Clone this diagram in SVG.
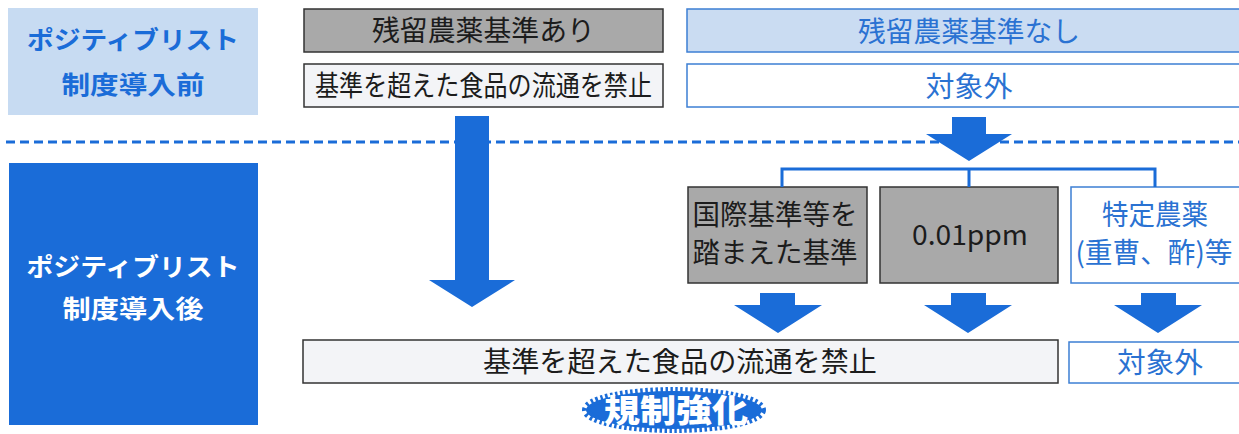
<svg xmlns="http://www.w3.org/2000/svg" width="1239" height="434" viewBox="0 0 1239 434">
<defs>
<style>
text{font-family:"Noto Sans CJK JP","Noto Sans",sans-serif;text-anchor:middle}
.lbl{font-weight:bold;font-size:25px}
.dk{fill:#1c1c1c;font-size:28px}
.bl{fill:#2a72d2;font-size:28px}
.gray{fill:#a9a9a9;stroke:#333;stroke-width:1.5}
.wht{fill:#f3f4f7;stroke:#333;stroke-width:1.5}
.bbox{fill:#fff;stroke:#3d7fd4;stroke-width:1.5}
.arrow{fill:#1a6cd8}
.conn{stroke:#1a6cd8;stroke-width:3;fill:none}
</style>
</defs>
<rect width="1239" height="434" fill="#fff"/>
<line x1="6" y1="142" x2="1239" y2="142" stroke="#1a6cd8" stroke-width="3" stroke-dasharray="9 5"/>
<g id="before">
<rect x="8" y="8" width="250" height="107" fill="#c7dbf2"/>
<text class="lbl" x="133" y="49" fill="#1a6cd8" textLength="212" lengthAdjust="spacingAndGlyphs">ポジティブリスト</text>
<text class="lbl" x="133" y="94" fill="#1a6cd8" textLength="143" lengthAdjust="spacingAndGlyphs">制度導入前</text>
</g>
<g id="after">
<rect x="9" y="163" width="249" height="262" fill="#1a6cd8"/>
<text class="lbl" x="133" y="276" fill="#fff" textLength="213" lengthAdjust="spacingAndGlyphs">ポジティブリスト</text>
<text class="lbl" x="133" y="318" fill="#fff" textLength="141" lengthAdjust="spacingAndGlyphs">制度導入後</text>
</g>
<g id="std-yes">
<rect class="gray" x="304" y="9" width="359" height="43"/>
<text class="dk" x="483.5" y="41" textLength="223" lengthAdjust="spacingAndGlyphs">残留農薬基準あり</text>
</g>
<g id="ban-before">
<rect class="wht" x="304" y="64" width="359" height="43"/>
<text class="dk" x="483.5" y="96" textLength="337" lengthAdjust="spacingAndGlyphs">基準を超えた食品の流通を禁止</text>
</g>
<g id="std-no">
<rect x="687" y="9" width="560" height="43" fill="#cadcf2" stroke="#3d7fd4" stroke-width="1.5"/>
<text class="bl" x="969" y="42" textLength="222" lengthAdjust="spacingAndGlyphs">残留農薬基準なし</text>
</g>
<g id="out-before">
<rect class="bbox" x="687" y="64" width="560" height="43"/>
<text class="bl" x="969" y="97" textLength="87" lengthAdjust="spacingAndGlyphs">対象外</text>
</g>
<g id="intl">
<rect class="gray" x="688" y="187" width="179" height="96"/>
<text class="dk" x="775" y="225" textLength="165" lengthAdjust="spacingAndGlyphs">国際基準等を</text>
<text class="dk" x="775" y="263" textLength="165" lengthAdjust="spacingAndGlyphs">踏まえた基準</text>
</g>
<g id="ppm">
<rect class="gray" x="880" y="187" width="178" height="96"/>
<text class="dk" x="970" y="245" textLength="116" lengthAdjust="spacingAndGlyphs">0.01ppm</text>
</g>
<g id="special">
<rect class="bbox" x="1071" y="187" width="180" height="96"/>
<text class="bl" x="1155" y="225" textLength="106" lengthAdjust="spacingAndGlyphs">特定農薬</text>
<text class="bl" x="1154" y="263" textLength="157" lengthAdjust="spacingAndGlyphs">(重曹、酢)等</text>
</g>
<g id="ban-after">
<rect class="wht" x="303" y="340" width="755" height="43"/>
<text class="dk" x="680" y="372" textLength="394" lengthAdjust="spacingAndGlyphs">基準を超えた食品の流通を禁止</text>
</g>
<g id="out-after">
<rect class="bbox" x="1069" y="342" width="180" height="41"/>
<text class="bl" x="1160" y="373" textLength="86" lengthAdjust="spacingAndGlyphs">対象外</text>
</g>
<g id="connectors">
<polygon class="arrow" points="455,116 489,116 489,280 515,280 472,307 429,280 455,280"/>
<polygon class="arrow" points="952,117 986,117 986,134 1012,134 969,161 926,134 952,134"/>
<path class="conn" d="M782,187 V169 H1155 V187 M969,169 V187"/>
<polygon class="arrow" points="760,293 795,293 795,305 822,305 778,333 734,305 760,305"/>
<polygon class="arrow" points="951,293 986,293 986,305 1012,305 968,333 924,305 951,305"/>
<polygon class="arrow" points="1141,293 1176,293 1176,305 1202,305 1158,333 1114,305 1141,305"/>
</g>
<g id="badge">
<ellipse cx="674" cy="410" rx="88" ry="19" fill="#1a6cd8" stroke="#1a6cd8" stroke-width="8" stroke-dasharray="2.5 2.5"/>
<text x="676" y="422" fill="#fff" font-weight="900" font-size="32" textLength="144" lengthAdjust="spacingAndGlyphs">規制強化</text>
</g>
</svg>
